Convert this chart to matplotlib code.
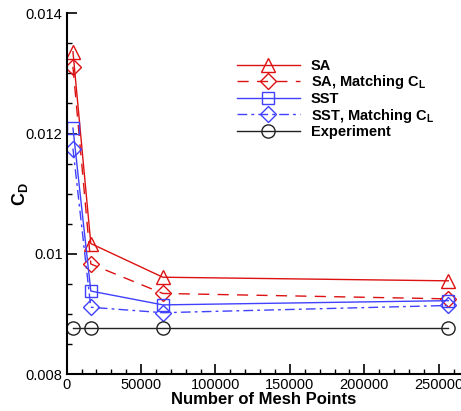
import matplotlib
matplotlib.use('Agg')
import matplotlib.pyplot as plt
from matplotlib.ticker import MultipleLocator, FormatStrFormatter, FuncFormatter

plt.rcParams['font.family'] = 'Liberation Sans'
plt.rcParams['mathtext.fontset'] = 'custom'
plt.rcParams['mathtext.rm'] = 'Liberation Sans'
plt.rcParams['mathtext.bf'] = 'Liberation Sans:bold'

# mesh sizes and drag coefficients
mesh_points = [4200, 16200, 64600, 256500]
cd_sa = [0.01336, 0.01017, 0.00961, 0.00955]
cd_sa_match = [0.01311, 0.00983, 0.00934, 0.00925]
cd_sst = [0.01209, 0.00938, 0.00915, 0.00922]
cd_sst_match = [0.01175, 0.00911, 0.00902, 0.00914]
cd_exp = [0.00876, 0.00876, 0.00876, 0.00876]

red = '#dd1111'
blue = '#4040ff'

fig = plt.figure(figsize=(4.61, 4.11), dpi=100)
ax = fig.add_axes([0.1447, 0.09, 0.8553, 0.8776])

ms = 9.5
ax.plot(mesh_points, cd_sa, color=red, lw=1, marker='^', ms=ms, mfc='none', mew=1,
        label='SA')
ax.plot(mesh_points, cd_sa_match, color=red, lw=1, marker='D', ms=ms * 0.82, mfc='none',
        mew=1, dashes=(8, 6), label=r'SA, Matching C$_\mathbf{L}$')
ax.plot(mesh_points, cd_sst, color=blue, lw=1, marker='s', ms=ms * 0.85, mfc='none', mew=1,
        label='SST')
ax.plot(mesh_points, cd_sst_match, color=blue, lw=1, marker='D', ms=ms * 0.82, mfc='none',
        mew=1, dashes=(7, 3, 2, 3), label=r'SST, Matching C$_\mathbf{L}$')
ax.plot(mesh_points, cd_exp, color='#222222', lw=1, marker='o', ms=ms, mfc='none',
        mew=1, label='Experiment', clip_on=False)

ax.set_xlim(0, 265000)
ax.set_ylim(0.008, 0.014)

for side in ['top', 'right']:
    ax.spines[side].set_visible(False)
for side in ['left', 'bottom']:
    ax.spines[side].set_linewidth(1.5)

ax.xaxis.set_major_locator(MultipleLocator(50000))
ax.xaxis.set_minor_locator(MultipleLocator(10000))
ax.yaxis.set_major_locator(MultipleLocator(0.002))
ax.yaxis.set_minor_locator(MultipleLocator(0.0005))
ax.xaxis.set_major_formatter(FormatStrFormatter('%d'))
ax.yaxis.set_major_formatter(FuncFormatter(lambda v, p: ('%.3f' % v).rstrip('0')))
ax.tick_params(which='major', direction='in', length=7, width=1.2, labelsize=10.5, pad=3)
ax.tick_params(which='minor', direction='in', length=3.5, width=1)

ax.set_xlabel('Number of Mesh Points', fontsize=12, fontweight='bold', labelpad=0)
ax.set_ylabel(r'$\mathbf{C_D}$', fontsize=13)
ax.yaxis.set_label_coords(-0.093, 0.5)

ax.legend(loc='upper left', bbox_to_anchor=(0.432, 0.874), frameon=False, borderpad=0,
          borderaxespad=0, handlelength=4.3, handletextpad=0.75, labelspacing=0.04,
          prop={'weight': 'bold', 'size': 10.5})

fig.savefig('out.png', dpi=100)
